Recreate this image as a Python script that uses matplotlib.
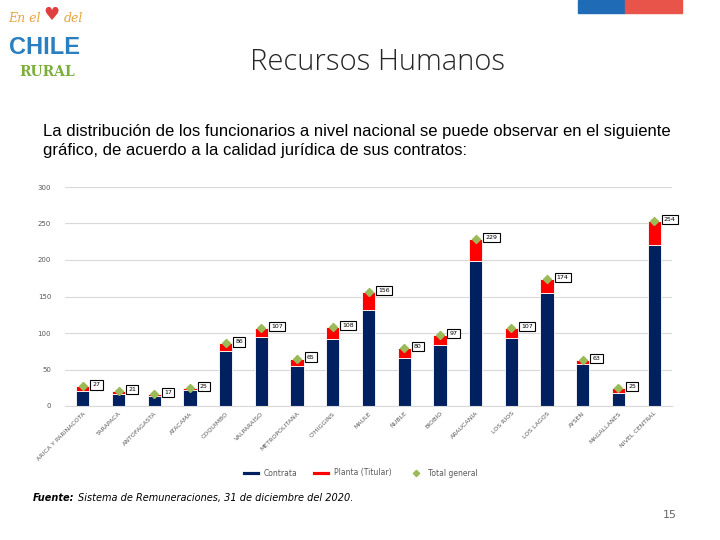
import matplotlib.pyplot as plt
import numpy as np

regiones = ['ARICA Y PARINACOTA', 'TARAPACÁ', 'ANTOFAGASTA', 'ATACAMA', 'COQUIMBO',
            'VALPARAÍSO', 'METROPOLITANA', "O'HIGGINS", 'MAULE', 'ÑUBLE', 'BIOBÍO',
            'ARAUCANÍA', 'LOS RÍOS', 'LOS LAGOS', 'AYSÉN', 'MAGALLANES', 'NIVEL CENTRAL']
contrata = [21, 17, 14, 22, 76, 95, 55, 92, 132, 66, 83, 198, 93, 155, 58, 18, 220]
total = [27, 21, 17, 25, 86, 107, 65, 108, 156, 80, 97, 229, 107, 174, 63, 25, 254]
planta = [t - c for t, c in zip(total, contrata)]

NAVY = '#002060'
RED = '#FF0000'
GREEN = '#9BBB59'
GREY = '#595959'

fig = plt.figure(figsize=(7.2, 5.4), dpi=100)
fig.patch.set_facecolor('white')

# header: flag stripe, logo, title
fig.add_artist(plt.Rectangle((578/720, 1-13/540), 47/720, 13/540, color='#1F6BB5',
                             transform=fig.transFigure))
fig.add_artist(plt.Rectangle((625/720, 1-13/540), 57/720, 13/540, color='#E8534A',
                             transform=fig.transFigure))
fig.text(0.012, 0.965, 'En el', color='#E8A33C', fontsize=9, style='italic',
         fontfamily='DejaVu Serif', va='center')
fig.text(0.072, 0.972, '♥', color='#E04040', fontsize=13, va='center', ha='center')
fig.text(0.088, 0.965, 'del', color='#E8A33C', fontsize=9, style='italic',
         fontfamily='DejaVu Serif', va='center')
fig.text(45/720, 0.912, 'CHILE', color='#2A7FC1', fontsize=17, fontweight='bold',
         fontfamily='Liberation Sans', ha='center', va='center')
fig.text(47/720, 0.866, 'RURAL', color='#7CAE3A', fontsize=10, fontweight='bold',
         fontfamily='DejaVu Serif', ha='center', va='center')
fig.text(0.525, 0.885, 'Recursos Humanos', fontsize=21, color='#262626',
         fontfamily='Open Sans', fontweight='light', ha='center', va='center')

para = ('La distribución de los funcionarios a nivel nacional se puede observar en el siguiente\n'
        'gráfico, de acuerdo a la calidad jurídica de sus contratos:')
fig.text(43/720, 0.739, para, fontsize=12, color='black', linespacing=1.4,
         fontfamily='Liberation Sans', va='center')

ax = fig.add_axes([65/720, 1-406/540, 607/720, 219/540])
x = np.arange(len(regiones))
w = 0.37
b1 = ax.bar(x, contrata, w, color=NAVY, edgecolor='white', linewidth=0.6, label='Contrata', zorder=2)
b2 = ax.bar(x, planta, w, bottom=contrata, color=RED, edgecolor='white', linewidth=0.6,
            label='Planta (Titular)', zorder=2)
l1, = ax.plot(x, total, linestyle='none', marker='D', markersize=4, color=GREEN,
              label='Total general', zorder=3)
for xi, t in zip(x, total):
    ax.annotate(str(t), (xi, t), xytext=(7, 1), textcoords='offset points',
                fontsize=4.5, color='black', va='center', ha='left',
                bbox=dict(boxstyle='square,pad=0.35', fc='white', ec='black', lw=0.8),
                zorder=4)

ax.set_xlim(-0.5, len(regiones) - 0.5)
ax.set_ylim(0, 300)
ax.set_yticks(range(0, 301, 50))
ax.yaxis.grid(True, color='#D9D9D9', linewidth=0.8, zorder=0)
ax.set_axisbelow(True)
for s in ['top', 'right', 'left']:
    ax.spines[s].set_visible(False)
ax.spines['bottom'].set_color('#D9D9D9')
ax.tick_params(axis='both', length=0, labelsize=5, colors=GREY)
ax.tick_params(axis='y', pad=10)
ax.set_xticks(x)
ax.set_xticklabels(regiones, rotation=45, ha='right', rotation_mode='anchor', fontsize=4.5)

fig.legend(handles=[b1, b2, l1], loc='center', bbox_to_anchor=(0.5, 1-473/540), ncol=3,
           frameon=False, fontsize=5.5, labelcolor=GREY, handlelength=2.3, handleheight=0.5,
           handletextpad=0.5, columnspacing=2.0, markerscale=0.8)

f1 = fig.text(33/720, 1-498/540, 'Fuente:', fontsize=7, style='italic', fontweight='bold',
              va='center', fontfamily='DejaVu Sans Condensed')
fig.canvas.draw()
bb = f1.get_window_extent()
fig.text((bb.x1 + 3) / 720, 1-498/540, 'Sistema de Remuneraciones, 31 de diciembre del 2020.',
         fontsize=7, style='italic', va='center', fontfamily='DejaVu Sans Condensed')
fig.text(670/720, 1-515/540, '15', fontsize=8, color='#666666', ha='center', va='center')

fig.savefig('out.png', dpi=100, facecolor='white')
